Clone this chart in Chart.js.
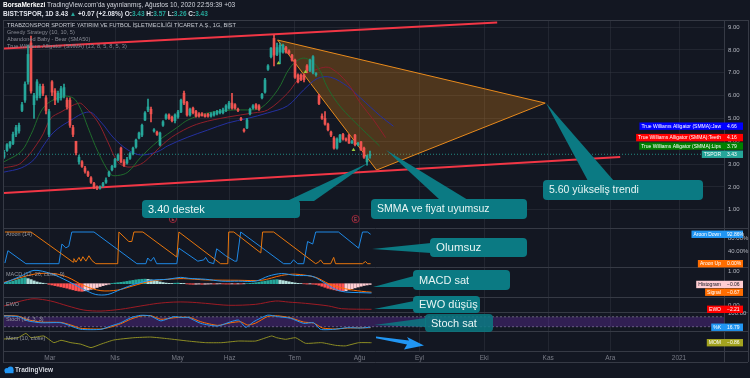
<!DOCTYPE html>
<html><head><meta charset="utf-8">
<script src="https://cdn.jsdelivr.net/npm/chart.js@4.4.1/dist/chart.umd.min.js"></script>
<style>
html,body{margin:0;padding:0;background:#131722;}
#wrap{position:relative;width:750px;height:378px;overflow:hidden;font-family:"Liberation Sans",Arial,sans-serif;}
canvas{position:absolute;left:0;top:0;}
.t{position:absolute;white-space:nowrap;line-height:1;}
.tl{color:#26a69a;}
</style></head><body>
<div id="wrap">
<canvas id="c" width="750" height="378"></canvas>
<div class="t" style="left:3px;top:2px;font-size:6.5px;color:#d1d4dc"><b style="color:#fff">BorsaMerkezi</b> TradingView.com'da yayınlanmış, Ağustos 10, 2020 22:59:39 +03</div>
<div class="t" style="left:3px;top:11px;font-size:6.5px;color:#e0e3eb;font-weight:bold">BIST:TSPOR, 1D 3.43 <span class="tl">▲</span> +0.07 (+2.08%) O:<span class="tl">3.43</span> H:<span class="tl">3.57</span> L:<span class="tl">3.26</span> C:<span class="tl">3.43</span></div>
<div class="t" style="left:7px;top:22.5px;font-size:5.6px;color:#c8cbd3">TRABZONSPOR SPORTİF YATIRIM VE FUTBOL İŞLETMECİLİĞİ TİCARET A.Ş., 1G, BIST</div>
<div class="t" style="left:7px;top:30px;font-size:5.6px;color:#868993">Greedy Strategy (10, 10, 5)</div>
<div class="t" style="left:7px;top:37px;font-size:5.6px;color:#868993">Abandoned Baby - Bear (SMA50)</div>
<div class="t" style="left:7px;top:44px;font-size:5.6px;color:#868993">True Williams Alligator (SMMA) (13, 8, 5, 8, 5, 3)</div>
<div class="t" style="left:6px;top:231.5px;font-size:5.5px;color:#9598a1">Aroon (14)</div>
<div class="t" style="left:6px;top:272px;font-size:5.5px;color:#9598a1">MACD (12, 26, close, 9)</div>
<div class="t" style="left:6px;top:301.5px;font-size:5.5px;color:#9598a1">EWO</div>
<div class="t" style="left:6px;top:317px;font-size:5.5px;color:#9598a1">Stoch (14, 3, 3)</div>
<div class="t" style="left:6px;top:336px;font-size:5.5px;color:#9598a1">Mom (10, close)</div>
<div class="t" style="left:15px;top:367px;font-size:6.5px;color:#d1d4dc;font-weight:bold">TradingView</div>
</div>
<script>
// ---------- DATA ----------
// candles, one per trading day (x = bar index)
const opens = [3.30,3.60,3.78,3.90,4.30,4.45,5.35,5.80,6.60,8.30, 5.60,5.90,6.00,6.40,5.90,4.30,6.60,6.20,5.80,5.90, 6.00,5.80,5.80,4.60,4.00,3.10,3.10,2.83,2.65,2.40, 2.15,2.00,1.95,2.05,2.20,2.50,2.75,2.87,3.20,3.70, 3.10,3.05,3.25,3.45,3.75,4.14,4.27,4.93,5.37,5.40, 4.45,4.40,3.84,4.70,5.00,5.15,5.05,4.90,5.06,5.28, 6.10,5.70,5.15,5.45,5.30,5.20,5.20,5.15,5.18,5.10, 5.15,5.20,5.25,5.25,5.35,5.45,5.67,5.60,5.40,5.00, 4.50,4.58,5.20,5.45,5.60,5.55,5.90,6.15,7.15,7.70, 8.50,7.80,7.90,7.90,8.10,7.95,7.77,7.55,6.90,6.90, 6.90,7.30,7.10,7.00,6.92,6.00,5.10,5.00,4.75,4.40, 4.14,3.70,3.97,4.30,4.10,4.27,3.92,4.27,3.85,3.97, 3.70,3.10,3.43];
const highs = [3.60,3.90,4.00,4.40,4.70,4.80,5.70,6.60,8.20,8.60, 6.10,6.70,6.50,6.50,6.00,5.40,6.65,6.30,6.20,6.40, 6.50,5.90,5.90,4.70,4.00,3.40,3.15,2.90,2.70,2.45, 2.20,2.05,2.05,2.20,2.40,2.70,2.95,3.25,3.45,3.75, 3.20,3.30,3.50,3.75,4.10,4.40,4.75,5.30,5.85,5.50, 4.55,4.45,4.40,4.90,5.20,5.20,5.10,5.20,5.35,5.85, 6.20,5.75,5.45,5.50,5.35,5.25,5.25,5.20,5.22,5.25, 5.30,5.35,5.40,5.45,5.60,5.75,6.10,5.65,5.45,5.05, 4.55,5.00,5.45,5.60,5.65,5.60,6.10,6.75,7.35,8.10, 8.65,8.30,8.30,8.25,8.15,8.00,7.80,7.60,6.95,6.95, 6.95,7.35,7.60,7.75,7.00,6.05,5.20,5.30,4.80,4.45, 4.20,4.15,4.30,4.35,4.15,4.30,4.05,4.30,3.95,4.00, 3.75,3.40,3.57];
const lows = [3.25,3.55,3.70,3.85,4.20,4.35,5.30,5.70,6.50,6.10, 5.00,5.80,5.90,6.00,5.20,4.20,6.00,5.60,5.70,5.80, 5.90,5.40,4.60,4.20,3.40,3.00,2.85,2.60,2.45,2.15, 1.92,1.88,1.90,2.00,2.15,2.45,2.70,2.85,3.15,3.05, 2.90,3.00,3.20,3.40,3.70,4.10,4.20,4.90,5.30,4.85, 4.40,4.25,3.80,4.65,4.95,4.95,4.85,4.80,5.00,5.25, 5.60,5.10,5.10,5.20,5.05,5.05,5.10,5.05,5.05,5.05, 5.10,5.15,5.20,5.20,5.30,5.40,5.40,5.40,5.30,4.90, 4.40,4.55,5.15,5.40,5.40,5.35,5.85,6.10,7.10,7.65, 7.30,7.75,7.40,7.85,7.85,7.80,7.50,6.75,6.55,6.65, 6.60,7.00,7.05,6.95,6.85,5.60,4.95,4.70,4.45,4.20, 3.65,3.65,3.95,4.05,4.00,3.90,3.90,3.80,3.80,3.60, 3.25,2.95,3.26];
const closes = [3.52,3.85,3.95,4.30,4.60,4.70,5.60,6.50,7.80,6.20, 6.00,6.60,6.40,6.10,5.35,5.30,6.15,5.80,6.10,6.30, 6.35,5.50,4.70,4.30,3.50,3.30,2.90,2.68,2.50,2.20, 1.97,1.95,2.00,2.15,2.30,2.65,2.90,3.20,3.40,3.10, 2.95,3.20,3.45,3.70,4.05,4.36,4.70,5.24,5.50,5.20, 4.50,4.30,4.36,4.85,5.15,5.00,4.90,5.15,5.28,5.80, 5.67,5.15,5.40,5.25,5.10,5.10,5.12,5.08,5.10,5.20, 5.25,5.30,5.32,5.37,5.55,5.67,5.45,5.45,5.35,4.95, 4.45,4.93,5.40,5.55,5.45,5.40,6.05,6.68,7.30,8.08, 7.77,8.10,8.20,8.20,7.90,7.85,7.55,6.80,6.60,6.70, 6.70,7.10,7.55,7.70,6.95,5.65,5.00,4.75,4.50,4.27, 3.70,4.10,4.27,4.10,4.05,3.92,4.00,3.85,3.90,3.62, 3.30,3.36,3.43];

// Williams Alligator (points: [bar index, price])
const jaw = [[0,2.65],[5.7,2.83],[10,3.2],[13.3,3.84],[16.6,4.4],[21.3,4.84],[28.3,5.28],[32.3,4.84],[36.6,4.14],[41.3,3.62],[45.6,3.4],[51.3,3.55],[54.6,3.8],[61.3,4.18],[67.9,4.49],[74.6,4.8],[81.2,5.0],[87.9,5.24],[94.5,5.55],[99.9,6.25],[104.5,6.75],[108.9,6.8],[114.5,6.4],[118.8,5.9],[125.5,5.1],[129.8,4.66]];
const teeth = [[0,2.83],[5.7,3.05],[12.3,4.14],[15.6,5.0],[19,5.28],[25,5.67],[27,5.5],[31.3,4.84],[34.6,3.97],[37.9,3.1],[41.3,2.87],[45.6,3.0],[48.9,3.35],[54.6,4.05],[59.9,4.49],[65.6,4.8],[74.6,5.06],[83.2,5.24],[87.9,5.37],[94.5,6.1],[98.9,6.8],[105.5,7.2],[108.9,7.2],[114.5,6.55],[118.8,5.67],[123.2,4.93],[127.2,4.16]];
const lips = [[0,3.1],[5.7,3.55],[9,4.3],[13.3,5.5],[19,5.94],[23,5.9],[25.6,5.4],[28,4.6],[31.3,3.55],[35.6,2.55],[37.9,2.5],[41.3,2.65],[45.6,3.3],[51.3,4.0],[57.9,4.62],[61.3,4.93],[67.9,5.24],[76.6,5.37],[81.2,5.37],[85.6,5.45],[91.2,6.24],[95.5,7.25],[99.9,7.64],[104.5,7.25],[107.9,6.33],[112.2,5.5],[118.8,4.6],[122.8,4.1],[125.2,3.79]];
const greedySignals = [[91.5,7.42],[100.5,7.03],[116.5,3.62]];

// drawings on the price pane: [bar index, price]
const trendTop = [[0,8.06],[164.4,9.20]];
const trendBottom = [[0,1.735],[205.4,3.31]];
const wedgeShape = [[91.2,8.43],[180.4,5.67],[124.2,2.74],[91.2,8.43]];

// Aroon (14) in %
const aroonDown = [[0.3,2],[1.3,41],[7.3,0],[18.3,0],[19.3,62],[20.6,50],[21.6,55],[22.6,100],[30,100],[44.3,0],[47.3,0],[47.9,18],[48.9,8],[49.9,20],[50.9,0],[57.6,0],[58.3,49],[64.6,8],[66.6,12],[67.2,20],[68.2,5],[69.9,0],[70.9,47],[73.9,25],[76.9,8],[77.6,8],[78.9,100],[93.2,0],[95.5,0],[96.5,12],[97.9,0],[99.9,0],[101.2,70],[102.9,62],[103.9,100],[111.5,100],[118.2,49],[119.5,100],[121.2,100],[122.2,92.86]];
const aroonUp = [[0.3,100],[9,100],[23,5],[23.3,16],[24,5],[25,20],[25.6,8],[26.3,22],[27.3,8],[28.3,25],[29.3,10],[30.6,0],[37.9,0],[38.3,100],[41.6,70],[42.6,70],[43.3,100],[46.3,100],[57.6,21],[58.3,100],[72.2,0],[74.6,0],[74.9,100],[76.6,100],[85.6,34],[86.2,100],[89.9,100],[103.9,0],[104.9,5],[105.5,12],[106.5,0],[108.9,0],[109.9,20],[110.5,0],[119.5,0],[120.5,7],[121.2,0],[122.2,0]];

// MACD (12, 26, close, 9)
const macd = [[0,0.05],[5.7,0.6],[10,1.05],[15.6,0.8],[21.3,0.2],[26.6,-0.45],[30.6,-0.85],[34.6,-0.85],[38.9,-0.45],[43.3,-0.05],[48.9,0.27],[54.6,0.35],[58.9,0.5],[61.6,0.42],[67.2,0.35],[72.6,0.2],[78.2,0.2],[83.9,0.2],[88.2,0.6],[92.5,0.8],[97.2,0.65],[102.5,0.6],[105.9,0.2],[110.5,-0.45],[113.8,-0.65],[118.2,-0.7],[122.5,-0.73]];
const signal = [[0,0.1],[10,0.75],[16.6,0.8],[21.3,0.5],[26.6,-0.15],[32.3,-0.55],[37.9,-0.5],[43.3,-0.15],[48.9,0.2],[54.6,0.35],[59.9,0.4],[67.2,0.3],[78.2,0.27],[85.9,0.27],[92.5,0.65],[97.2,0.75],[103.9,0.5],[108.2,0],[113.8,-0.4],[119.2,-0.6],[122.5,-0.67]];
const hist = [0.05,0.1,0.15, 0.2,0.28,0.35,0.42,0.47, 0.4,0.32,0.22,0.14,0.08, 0.04,0.0,
 -0.05,-0.1,-0.15,-0.2,-0.25,-0.3,-0.35,-0.42,-0.48,-0.54,-0.58,
 -0.6,-0.56,-0.5,-0.44,-0.38,-0.3,-0.22,-0.15,-0.09,-0.04,
 0.02,0.05,0.08,0.11,0.14,0.18,0.22,0.26,0.3, 0.33,0.35,0.36,0.34,
 0.3,0.25,0.2,0.14,0.09,0.05, 0.03,0.02,0.04,0.05,0.03,0.02,
 -0.02,-0.04,-0.05,-0.04,-0.03,-0.05,-0.04,-0.03,-0.02,-0.03,-0.02,-0.01,
 -0.02,-0.03,-0.03,-0.02,-0.03,-0.02, -0.02,-0.01,0.01,0.03,0.05,0.08,
 0.12,0.16,0.2,0.24,0.28,0.3,0.32, 0.28,0.24,0.2,0.15,0.1,0.06,
 0.03,0.01,-0.01,-0.03,-0.02,-0.04,-0.06,
 -0.12,-0.2,-0.28,-0.36,-0.42,-0.48,-0.53,-0.57,-0.6,
 -0.55,-0.48,-0.4,-0.33,-0.26,-0.2,-0.14,-0.1,-0.06];

// EWO
const ewo = [[0,-0.5],[5.7,2.05],[10,3.2],[15.6,2.05],[21.3,-0.5],[26.6,-2.6],[32.3,-3.1],[38.9,-2.2],[45.6,-0.5],[51.3,0.85],[56.6,1.5],[61.3,1.5],[67.2,0.85],[74.9,-0.15],[83.9,0.35],[90.5,2.05],[94.9,1.5],[100.5,0.85],[108.2,-0.5],[112.5,-1.9],[122.5,-2.21]];

// Stoch (14, 3, 3)
const stochK = [[0,85],[4.7,81],[8,55],[12.3,44],[19,44],[22.3,24],[25.6,4],[32.3,4],[35.6,24],[38.9,44],[42.3,75],[45.6,89],[48.9,85],[52.3,55],[56.6,81],[59.9,75],[61.3,77],[65.6,40],[71.2,24],[75.6,50],[78.2,60],[80.6,16],[83.2,50],[87.9,90],[91.2,81],[95.5,71],[99.9,40],[103.2,44],[105.5,4],[109.9,4],[114.5,14],[118.8,12],[122.2,16.79]];
const stochD = [[0,88],[4.7,84],[8,62],[12.3,48],[19,46],[22.3,30],[25.6,10],[32.3,6],[35.6,18],[38.9,38],[42.3,66],[45.6,85],[48.9,87],[52.3,65],[56.6,74],[59.9,78],[62.3,74],[65.6,50],[71.2,28],[75.6,44],[78.9,50],[81.2,30],[83.9,42],[87.9,82],[91.2,86],[95.5,74],[99.9,48],[103.2,42],[106.2,12],[110.5,6],[114.5,12],[118.8,13],[122.2,14]];
const stochBands = [80, 20];

// Mom (10, close)
const mom = [[0,0],[4.7,0.3],[7.3,1.3],[9,0.3],[13.3,0.7],[16.6,-0.85],[19,-0.3],[22.3,-0.85],[25.6,-1.2],[29,-2.0],[32.3,-1.2],[36.6,-0.23],[43.3,0.3],[48.9,0.45],[54.6,0.07],[61.3,-0.47],[67.2,-0.85],[72.6,-0.85],[78.2,-0.47],[83.9,-0.47],[89.2,0.7],[90.9,0.3],[93.9,-0.07],[97.2,0.3],[100.5,-1.0],[105.9,-0.85],[110.5,-1.47],[113.8,-1.6],[118.2,-0.86],[122.5,-0.86]];

// axis ticks
const monthPos = [15.3,37,57.9,75.2,96.9,118.5,138.5,160.1,181.4,202.1,225];
const monthLabels = ['Mar','Nis','May','Haz','Tem','Ağu','Eyl','Eki','Kas','Ara','2021'];
const priceTicks = [1,2,3,4,5,6,7,8,9];

// ---------- LAYOUT (pixels) ----------
const AREA = {top:20, bottom:351};
function axisRange(v1,p1,v2,p2){const k=(v2-v1)/(p2-p1);return {min:v1+(AREA.bottom-p1)*k, max:v1+(AREA.top-p1)*k};}
const rPrice = axisRange(9,27,1,209.8);
const rAroon = axisRange(0,263.7,100,232);
const rMacd = axisRange(0,283.7,1,271);
const rEwo = axisRange(0,305,-2.21,309.3);
const rStoch = axisRange(20,326.7,80,316.8);
const rMom = axisRange(0,339,-0.86,342.7);

const UP='#26a69a', DN='#ef5350';
const pts = a => a.map(p=>({x:p[0],y:p[1]}));
const last = a => a[a.length-1][1];
const candleCol = closes.map((c,i)=> c>=opens[i]?UP:DN);
const histCol = hist.map((h,i)=>{const p=i?hist[i-1]:0; return h>=0 ? (h>=p?'#26a69a':'#b2dfdb') : (h<=p?'#ff5252':'#ffcdd2');});

const line = (data, color, axis, extra={}) => Object.assign({type:'line', data:pts(data), borderColor:color, borderWidth:1, pointRadius:0, tension:0, yAxisID:axis, fill:false}, extra);

const datasets = [
  line(greedySignals,'#9ccc3a','y',{showLine:false,pointRadius:2.2,pointStyle:'triangle',pointBackgroundColor:'#9ccc3a',pointBorderWidth:0}),
  {type:'bar', data:closes.map((c,i)=>({x:i,y:[opens[i],c]})), backgroundColor:candleCol, barThickness:2, minBarLength:1, grouped:false, yAxisID:'y'},
  {type:'bar', data:closes.map((c,i)=>({x:i,y:[lows[i],highs[i]]})), backgroundColor:candleCol, barThickness:1, grouped:false, yAxisID:'y'},
  line(trendTop,'#f23645','y',{borderWidth:2}),
  line(trendBottom,'#f23645','y',{borderWidth:2}),
  line(lips,'#1f6b2c','y',{tension:0.35}),
  line(teeth,'#8e1f2a','y',{tension:0.35}),
  line(jaw,'#2430a0','y',{tension:0.35}),
  line(wedgeShape,'#e88a1c','y',{fill:'shape',backgroundColor:'rgba(240,140,20,0.27)',borderWidth:1}),
  line([[0,closes[closes.length-1]],[240,closes[closes.length-1]]],'rgba(38,166,154,0.8)','y',{borderDash:[1,2]}),
  line(aroonUp,'#e8760c','yA'),
  line(aroonDown,'#1e88e5','yA'),
  line(macd,'#2196f3','yM',{tension:0.3}),
  line(signal,'#ff6d00','yM',{tension:0.3}),
  {type:'bar', data:hist.map((h,i)=>({x:i,y:h})), backgroundColor:histCol, barThickness:2.4, grouped:false, yAxisID:'yM'},
  line(ewo,'#9e1b24','yE',{tension:0.3}),
  line(stochK,'#2196f3','yS',{tension:0.2}),
  line(stochD,'#ff6d00','yS',{tension:0.2}),
  line([[0,stochBands[0]],[240,stochBands[0]]],'rgba(120,123,134,0.8)','yS',{borderDash:[2,2],fill:'+1',backgroundColor:'rgba(120,50,200,0.3)'}),
  line([[0,stochBands[1]],[240,stochBands[1]]],'rgba(120,123,134,0.8)','yS',{borderDash:[2,2]}),
  line(mom,'#8d8d22','yO',{tension:0.15}),
];

// callouts (pixel layout)
const notes = [
 {t:'3.40 destek', box:[142,200,158,18], tip:[368,163], b1:[287,201], b2:[314,201], fs:11},
 {t:'SMMA ve fiyat uyumsuz', box:[371,199,156,20], tip:[386,150], b1:[440,200], b2:[468,200], fs:10.5},
 {t:'5.60 yükseliş trendi', box:[543,180,160,20], tip:[546,103], b1:[588,181], b2:[614,181], fs:10.5},
 {t:'Olumsuz', box:[430,238,97,19], tip:[372,249], b1:[431,243], b2:[431,253], fs:11.5},
 {t:'MACD sat', box:[413,270,97,20], tip:[373,287], b1:[414,276], b2:[414,287], fs:11},
 {t:'EWO düşüş', box:[413,296,67,17], tip:[374,309], b1:[414,301], b2:[414,309], fs:11},
 {t:'Stoch sat', box:[425,314,68,18], tip:[374,325], b1:[426,318], b2:[426,327], fs:11, a:0.85},
];
const tags = [
 {n:'True Williams Alligator (SMMA):Jaw', v:last(jaw), ax:'y', bg:'#0000ff', fg:'#fff'},
 {n:'True Williams Alligator (SMMA):Teeth', v:last(teeth), ax:'y', bg:'#ff0000', fg:'#fff'},
 {n:'True Williams Alligator (SMMA):Lips', v:last(lips), ax:'y', bg:'#008000', fg:'#fff'},
 {n:'TSPOR', v:closes[closes.length-1], ax:'y', bg:'#26a69a', fg:'#fff'},
 {n:'Aroon Down', v:last(aroonDown), ax:'yA', bg:'#2196f3', fg:'#fff', pct:true},
 {n:'Aroon Up', v:last(aroonUp), ax:'yA', bg:'#ff6d00', fg:'#fff', pct:true},
 {n:'Histogram', v:hist[hist.length-1], ax:'yM', bg:'#ffcdd2', fg:'#131722'},
 {n:'Signal', v:last(signal), ax:'yM', bg:'#ff6d00', fg:'#fff'},
 {n:'EWO', v:last(ewo), ax:'yE', bg:'#ff0000', fg:'#fff'},
 {n:'%K', v:last(stochK), ax:'yS', bg:'#2196f3', fg:'#fff'},
 {n:'MOM', v:last(mom), ax:'yO', bg:'#a3a31f', fg:'#fff'},
];
const paneTicks = [{ax:'yA',v:40,t:'40.00%'},{ax:'yA',v:80,t:'80.00%'},{ax:'yM',v:1,t:'1.00'},{ax:'yE',v:0,t:'0.00'},{ax:'yS',v:100,t:'100.00'}];
const earnings = [56.3, 117.2];
const fmt = v => (v<0?'\u2212':'')+Math.abs(v).toFixed(2);

function poly(c,p,col){c.beginPath();p.forEach((q,i)=>i?c.lineTo(q[0],q[1]):c.moveTo(q[0],q[1]));c.closePath();c.fillStyle=col;c.fill();}

const overlay = {
 id:'overlay',
 beforeDraw(chart){const c=chart.ctx;c.save();c.fillStyle='#131722';c.fillRect(0,0,chart.width,chart.height);c.restore();},
 afterDraw(chart){
  const c=chart.ctx, S=chart.scales;
  c.save();
  // pane separators & frame
  c.strokeStyle='#363a45'; c.lineWidth=1;
  [228,267,297,312,331,351,362].forEach(y=>{c.beginPath();c.moveTo(3,y+0.5);c.lineTo(748,y+0.5);c.stroke();});
  c.beginPath();c.moveTo(3,20.5);c.lineTo(748,20.5);c.stroke();
  [3,724,748].forEach(x=>{c.beginPath();c.moveTo(x+0.5,20);c.lineTo(x+0.5,362);c.stroke();});
  // pane tick labels
  c.font='6px "Liberation Sans"'; c.fillStyle='#b2b5be'; c.textBaseline='middle'; c.textAlign='left';
  paneTicks.forEach(p=>c.fillText(p.t,728,S[p.ax].getPixelForValue(p.v)));
  // earnings markers
  earnings.forEach(e=>{const x=S.x.getPixelForValue(e);c.beginPath();c.arc(x,219,3.6,0,Math.PI*2);c.fillStyle='#131722';c.fill();c.strokeStyle='#a8283c';c.lineWidth=0.9;c.stroke();c.fillStyle='#e0505f';c.font='4.5px "Liberation Sans"';c.textAlign='center';c.fillText('E',x,219.3);});
  // callouts
  notes.forEach(n=>{
    const col = n.a ? 'rgba(11,122,131,'+n.a+')' : '#0b7a83';
    poly(c,[n.b1,n.tip,n.b2],col);
    c.beginPath(); c.roundRect(n.box[0],n.box[1],n.box[2],n.box[3],4); c.fillStyle=col; c.fill();
    c.fillStyle='#e8f5f4'; c.font=n.fs+'px "Liberation Sans"'; c.textAlign='left'; c.textBaseline='middle';
    c.fillText(n.t,n.box[0]+6,n.box[1]+n.box[3]/2+0.5);
  });
  // blue arrow
  poly(c,[[376,336.5],[409,340.5],[407,337],[424,345.5],[404,349.5],[407,344.5],[376,338.2]],'#2196f3');
  // value tags
  c.font='5px "Liberation Sans"'; c.textBaseline='middle';
  tags.forEach(t=>{
    const y=S[t.ax].getPixelForValue(t.v);
    const w=c.measureText(t.n).width;
    const x0=721-w-2;
    c.fillStyle=t.bg; c.fillRect(x0,y-3.7,743-x0,7.4);
    c.fillStyle=t.fg; c.textAlign='right'; c.fillText(t.n,721,y+0.3);
    c.textAlign='left'; c.fillText(fmt(t.v)+(t.pct?'%':''),727,y+0.3);
  });
  // TradingView logo mark
  c.fillStyle='#2196f3';
  c.beginPath(); c.arc(7,370.5,2.6,0,Math.PI*2); c.fill();
  c.beginPath(); c.arc(10.5,369.5,3,0,Math.PI*2); c.fill();
  c.fillRect(5,370,8.5,3.2);
  c.restore();
 }
};

Chart.defaults.font.family='"Liberation Sans", Arial, sans-serif';
new Chart(document.getElementById('c'),{
 type:'line',
 data:{datasets},
 options:{
  responsive:false, animation:false, devicePixelRatio:1, events:[],
  layout:{padding:{top:20,left:3,right:0,bottom:0}},
  plugins:{legend:{display:false},tooltip:{enabled:false}},
  scales:{
   x:{type:'linear',min:0,max:240,offset:false,
      afterBuildTicks:s=>{s.ticks=monthPos.map(v=>({value:v}));},
      afterFit:s=>{s.height=27;},
      ticks:{autoSkip:false,maxRotation:0,color:'#787b86',font:{size:6.5},padding:3,callback:(v,i)=>monthLabels[i]},
      grid:{color:'rgba(54,58,69,0.45)',drawTicks:false,offset:false},border:{display:false}},
   y:{type:'linear',position:'right',min:rPrice.min,max:rPrice.max,
      afterBuildTicks:s=>{s.ticks=priceTicks.map(v=>({value:v}));},
      afterFit:s=>{s.width=26;},
      ticks:{color:'#b2b5be',font:{size:6},padding:4,callback:v=>v.toFixed(2)},
      grid:{color:'rgba(54,58,69,0.45)',drawTicks:false},border:{display:false}},
   yA:{display:false,min:rAroon.min,max:rAroon.max},
   yM:{display:false,min:rMacd.min,max:rMacd.max},
   yE:{display:false,min:rEwo.min,max:rEwo.max},
   yS:{display:false,min:rStoch.min,max:rStoch.max},
   yO:{display:false,min:rMom.min,max:rMom.max}
  }
 },
 plugins:[overlay]
});
</script>
</body></html>
